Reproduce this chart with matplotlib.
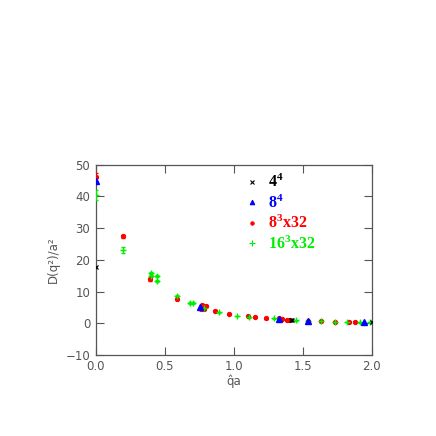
import matplotlib
matplotlib.use("Agg")
import matplotlib.pyplot as plt
from matplotlib.lines import Line2D

plt.rcParams['mathtext.fontset'] = 'custom'
plt.rcParams['mathtext.bf'] = 'Liberation Serif:bold'
plt.rcParams['mathtext.rm'] = 'Liberation Serif'

# 4^4
x44 = [0.0, 1.414, 1.42, 2.0]
y44 = [17.8, 1.0, 1.0, 0.3]
# 8^4
x84 = [0.0, 0.754, 1.33, 1.534, 1.942]
y84 = [45.0, 5.1, 1.45, 0.7, 0.4]
# 8^3x32
x8332 = [0.0, 0.196, 0.392, 0.585, 0.77, 0.795, 0.78, 0.765, 0.862, 0.965, 1.10,
         1.152, 1.232, 1.33, 1.35, 1.386, 1.41, 1.534, 1.628, 1.732, 1.833, 1.877]
y8332 = [46.2, 27.5, 13.8, 7.5, 5.7, 5.5, 4.5, 4.6, 3.9, 3.05, 2.3,
         2.0, 1.5, 1.5, 1.4, 0.95, 0.95, 0.7, 0.55, 0.4, 0.35, 0.35]
e8332 = [1.2, 0.5, 0.4, 0.3, 0.3, 0.3, 0.3, 0.3, 0.2, 0.2, 0.1,
         0.1, 0.1, 0.1, 0.1, 0.1, 0.1, 0.1, 0.1, 0.1, 0.1, 0.1]
# 16^3x32
x1632 = [0.0, 0.198, 0.396, 0.396, 0.44, 0.44, 0.59, 0.68, 0.705, 0.785, 0.894,
         1.024, 1.11, 1.292, 1.447, 1.534, 1.628, 1.732, 1.82, 1.913, 1.986]
y1632 = [40.4, 23.2, 15.7, 15.0, 14.8, 13.3, 8.5, 6.5, 6.4, 4.8, 3.4,
         2.3, 1.9, 1.5, 0.95, 0.7, 0.55, 0.4, 0.35, 0.3, 0.3]
e1632 = [1.5, 1.0, 0.6, 0.5, 0.3, 0.3, 0.5, 0.3, 0.2, 0.3, 0.2,
         0.1, 0.1, 0.1, 0.1, 0.1, 0.1, 0.1, 0.1, 0.1, 0.1]

labels = [r'$\mathbf{4^4}$', r'$\mathbf{8^4}$', r'$\mathbf{8^3x32}$', r'$\mathbf{16^3x32}$']
colors = ['black', '#0000ff', '#ff0000', '#00ee00']
markers = ['x', '^', 'o', '+']
msizes = [3.5, 4, 3, 5]

fig = plt.figure(figsize=(4.36, 4.36), dpi=100)
ax = fig.add_axes([0.220, 0.186, 0.633, 0.436])

ax.errorbar(x8332, y8332, yerr=e8332, fmt='o', ms=2.8, color=colors[2], ecolor=colors[2],
            elinewidth=0.8, capsize=1.5, zorder=3)
ax.errorbar(x1632, y1632, yerr=e1632, fmt='+', ms=5, mew=1, color=colors[3], ecolor=colors[3],
            elinewidth=0.8, capsize=1.5, zorder=3)
ax.plot(x84, y84, '^', ms=3.8, color=colors[1], zorder=4)
ax.plot(x44, y44, 'x', ms=3.5, mew=0.9, color=colors[0], zorder=5)

ax.set_xlim(0, 2.0)
ax.set_ylim(-10, 50)
ax.set_xticks([0.0, 0.5, 1.0, 1.5, 2.0])
ax.set_xticklabels(['0.0', '0.5', '1.0', '1.5', '2.0'])
ax.set_yticks([-10, 0, 10, 20, 30, 40, 50])
ax.set_yticklabels(['\u221210', '0', '10', '20', '30', '40', '50'])
ax.tick_params(direction='in', length=6, width=0.8, top=True, right=True,
               labelsize=8.5, colors='#555555', labelcolor='#555555', pad=4)
for s in ax.spines.values():
    s.set_color('#555555')
    s.set_linewidth(0.9)

ax.set_xlabel('q\u0302a', fontsize=8.5, color='#555555', labelpad=1)
ax.set_ylabel('D(q\u00b2)/a\u00b2', fontsize=8.5, color='#555555', labelpad=4)

handles = [Line2D([], [], ls='none', marker=m, ms=s * 0.8, mew=0.8, color=c)
           for m, s, c in zip(markers, msizes, colors)]
leg = ax.legend(handles, labels, loc='upper left', bbox_to_anchor=(0.515, 0.99), frameon=False,
                fontsize=11.5, handlelength=1.0, handletextpad=0.5, labelspacing=0.2,
                borderaxespad=0)
for t, c in zip(leg.get_texts(), colors):
    t.set_color(c)

fig.savefig('out.png', dpi=100)
